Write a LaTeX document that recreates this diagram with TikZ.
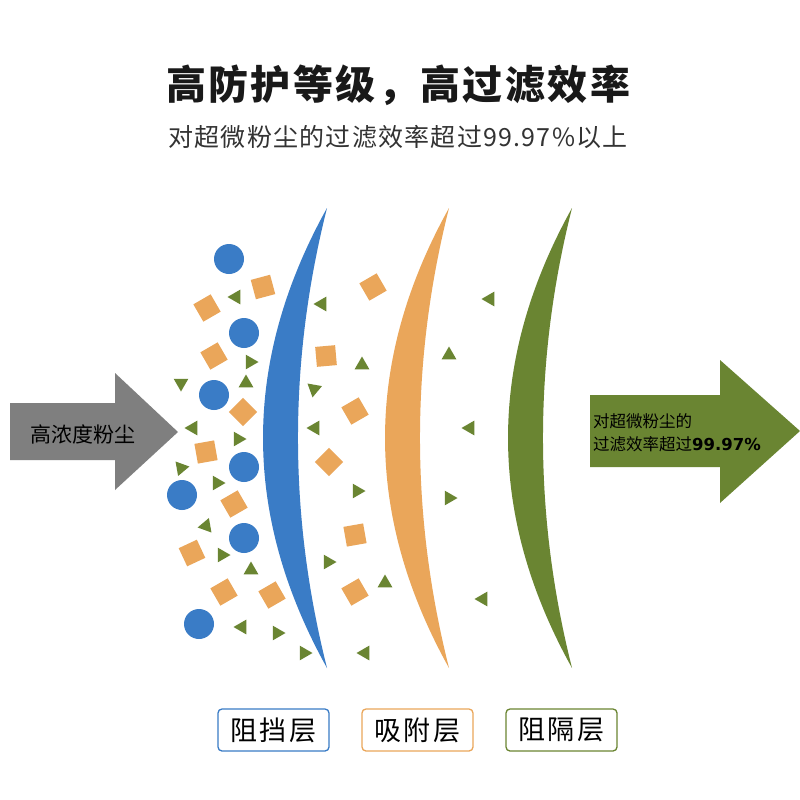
\documentclass[tikz,border=0pt]{standalone}
\usepackage{fontspec}
\setmainfont{Noto Sans CJK SC}
\newfontfamily\numfont{DejaVu Sans}
\usetikzlibrary{shapes.geometric}
\definecolor{layblue}{HTML}{3A7CC6}
\definecolor{layorange}{HTML}{EAA65A}
\definecolor{laygreen}{HTML}{6A8532}
\definecolor{arrowgray}{HTML}{7F7F7F}
\tikzset{
  dust/.style={circle, fill=layblue, minimum size=30pt, inner sep=0pt},
  grain/.style={rectangle, fill=layorange, minimum size=20pt, inner sep=0pt},
  speck/.style={regular polygon, regular polygon sides=3, fill=laygreen, minimum size=17pt, inner sep=0pt},
  tag/.style={draw, rounded corners=4pt, line width=1.3pt, minimum width=111pt, minimum height=42pt, inner sep=0pt,
    font={\fontsize{27}{30}\selectfont\addfontfeature{LetterSpace=8}}},
}

\begin{document}
\begin{tikzpicture}[x=1pt, y=-1pt]
  \useasboundingbox[fill=white] (0,0) rectangle (800,800);

  % heading
  \node[text=black!90, font={\fontsize{40}{44}\selectfont\bfseries\addfontfeature{LetterSpace=6}}] (title) at (398,85) {高防护等级，高过滤效率};
  \node[text=black!80, font={\fontsize{25}{28}\selectfont\addfontfeature{LetterSpace=5}}] (subtitle) at (398,137) {对超微粉尘的过滤效率超过99.97\%以上};

  % arrows in and out
  \fill[arrowgray] (10,403) -- (115,403) -- (115,373) -- (178,432) -- (115,490) -- (115,460) -- (10,460) -- cycle;
  \node[font=\fontsize{21}{24}\selectfont] (dustin) at (83,434) {高浓度粉尘};
  \fill[laygreen] (590,395) -- (720,395) -- (720,360) -- (800,431) -- (720,503) -- (720,467) -- (590,467) -- cycle;
  \node[anchor=west, align=left, inner sep=0pt, font=\fontsize{16.5}{23}\selectfont] (dustout) at (593,433)
    {对超微粉尘的\\过滤效率超过{\numfont\bfseries 99.97\%}};

  % filter layers
  \foreach \col/\tip in {layblue/327, layorange/449, laygreen/572}
    \fill[\col] (\tip,208) .. controls (\tip-85.3,361.3) and (\tip-85.3,514.7) .. (\tip,668)
      .. controls (\tip-38.7,514.7) and (\tip-38.7,361.3) .. (\tip,208) -- cycle;

  % particles
  \foreach \x/\y [count=\i] in {229/259, 244/333, 214/395, 244/467, 182/495, 244/538, 199/624}
    \node[dust] (dust\i) at (\x,\y) {};
  \foreach \x/\y/\a [count=\i] in {263/287/15, 207/308/30, 214/356/30, 243/412/45, 206/452/10,
      234/504/30, 192/553/25, 224/592/30, 272/595/30, 373/287/30, 326/356/5, 355/411/30,
      329/462/45, 355/535/10, 355/592/30}
    \node[grain, rotate=\a] (grain\i) at (\x,\y) {};
  \foreach \x/\y/\a [count=\i] in {236/297/90, 322/304/90, 250/362/-90, 246/383/120, 181/383/180,
      193/428/90, 238/439/-90, 314/389/170, 315/428/90, 362/365/120, 181/468/40, 217/483/-90,
      206/526/100, 222/555/-90, 251/570/0, 242/627/90, 277/633/-90, 304/653/-90, 328/562/-90,
      357/491/-90, 385/583/0, 365/653/90, 490/299/90, 449/355/120, 470/428/90, 449/498/-90, 483/599/90}
    \node[speck, rotate=\a] (speck\i) at (\x,\y) {};

  % layer names
  \node[tag, draw=layblue] (block) at (273.5,730) {阻挡层};
  \node[tag, draw=layorange] (adsorb) at (417.5,730) {吸附层};
  \node[tag, draw=laygreen] (barrier) at (561.5,730) {阻隔层};
\end{tikzpicture}
\end{document}
